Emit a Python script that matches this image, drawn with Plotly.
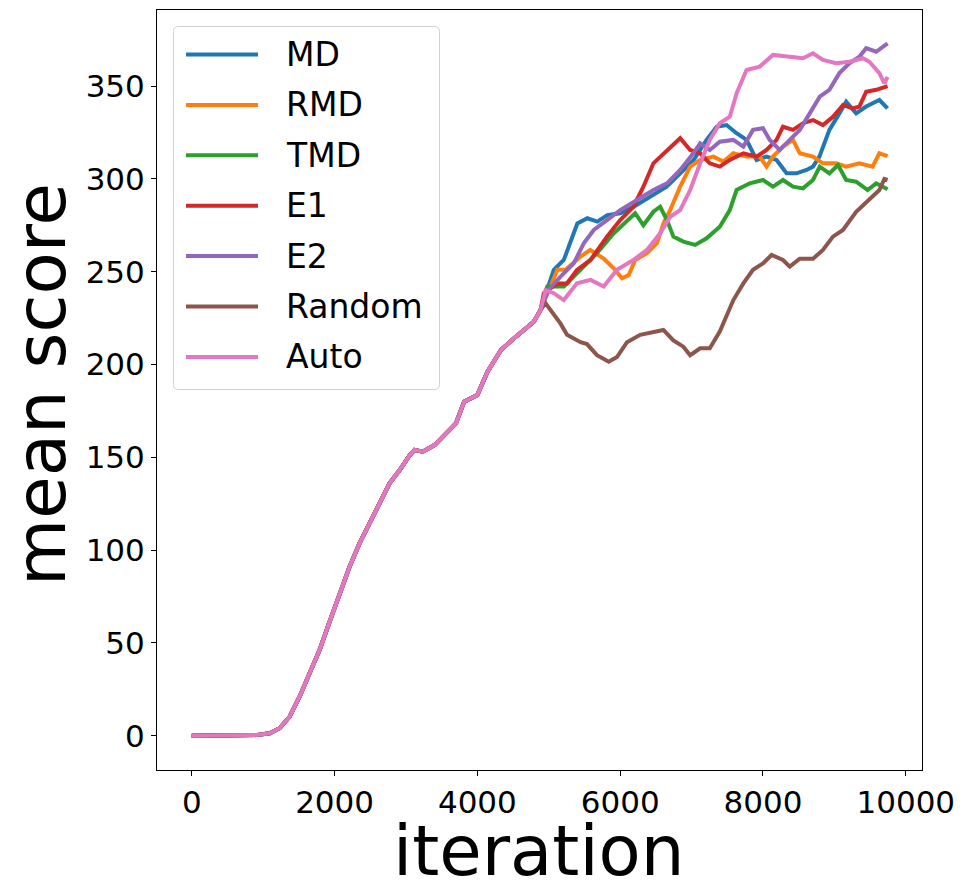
import plotly.graph_objects as go

# ---------------- data ----------------
NAMES = ["MD", "RMD", "TMD", "E1", "E2", "Random", "Auto"]
COLORS = ["#1f77b4", "#ff7f0e", "#2ca02c", "#d62728", "#9467bd", "#8c564b", "#e377c2"]

# shared warm-up part (identical for all methods)
BASE_X = [0, 500, 900, 1090, 1230, 1370, 1510, 1650, 1790, 1930, 2070, 2210, 2350, 2490,
          2630, 2770, 2910, 3050, 3120, 3235, 3400, 3580, 3700, 3815, 4000, 4140, 4330,
          4510, 4650, 4790, 4885]
BASE_Y = [0, 0, 0.3, 1.3, 4, 10.2, 21, 33.6, 46.2, 61.4, 76.7, 91, 103.7, 114.4,
          125.2, 136, 143, 151, 154, 153, 156.6, 163.8, 168.3, 180, 183.6, 196, 207.8,
          214, 218.6, 223, 229.4]

MD_X = [5070, 5210, 5300, 5400, 5540, 5680, 5820, 6000, 6190, 6420, 6650, 6840, 7030, 7210,
        7350, 7490, 7630, 7770, 7910, 8050, 8190, 8330, 8470, 8610, 8700, 8790, 8930, 9070,
        9165, 9305, 9445, 9630, 9745]
MD_Y = [251, 256.3, 265.3, 276, 278.8, 277, 280.5, 281.5, 285, 290.4, 295.8, 303, 310.2, 321,
        328.1, 329, 324.6, 321, 310.2, 312, 310.2, 303, 303, 304.8, 306.6, 312, 326.4, 335.3,
        341.6, 335.3, 339, 342.5, 338]

RMD_X = [5120, 5235, 5440, 5580, 5770, 5910, 6025, 6120, 6210, 6375, 6515, 6605, 6700, 6840,
         6980, 7120, 7305, 7445, 7585, 7770, 7955, 8050, 8140, 8280, 8420, 8515, 8700, 8840,
         9025, 9165, 9350, 9535, 9630, 9745]
RMD_Y = [251, 251, 258, 261.7, 257, 251.8, 246.4, 248.2, 256.3, 260, 265.3, 276, 283.2, 295.8,
         306.6, 310.2, 312, 309.3, 313.8, 312, 312, 306.6, 312, 317.4, 321, 313.8, 312, 308.4,
         308.4, 306.6, 308.4, 306.6, 313.8, 312.3]

TMD_X = [4980, 5210, 5440, 5675, 5910, 6095, 6210, 6325, 6465, 6560, 6655, 6745, 6885, 7050,
         7210, 7395, 7535, 7630, 7815, 8000, 8140, 8280, 8420, 8560, 8700, 8795, 8930, 9050,
         9165, 9305, 9465, 9585, 9745]
TMD_Y = [242, 242, 251, 260, 270.7, 277.8, 281.5, 275, 282.3, 285, 277.8, 268.9, 266.2, 264.4,
         268, 274.2, 283.2, 294, 297.6, 299.4, 295.8, 299.4, 295.8, 294.9, 299.4, 306.6, 303,
         307.5, 299.4, 298.5, 294, 297.6, 294.4]

E1_X = [4930, 5120, 5255, 5395, 5585, 5815, 6000, 6185, 6325, 6465, 6655, 6840, 6980, 7120,
        7255, 7395, 7535, 7725, 7910, 8050, 8190, 8280, 8420, 8560, 8700, 8840, 8980, 9120,
        9260, 9350, 9445, 9585, 9745]
E1_Y = [238.4, 243.7, 243.7, 251, 256.3, 268.9, 277.8, 285, 295.8, 308.4, 315.6, 321.9, 315.6,
        313.8, 308.4, 306.6, 310.2, 313.8, 312, 315.6, 321, 328.1, 326.4, 330, 331.7, 329, 333.5,
        339.8, 338, 339, 347, 348, 350]

E2_X = [4990, 5165, 5350, 5490, 5630, 5815, 6000, 6235, 6465, 6655, 6840, 7025, 7120, 7255,
        7395, 7585, 7725, 7860, 8000, 8095, 8235, 8375, 8515, 8655, 8795, 8930, 9070, 9210,
        9350, 9445, 9585, 9745]
E2_Y = [240, 247.3, 254.5, 265.3, 272.5, 277.8, 283.2, 288.6, 294, 297.6, 304.8, 313.8, 319.2,
        315.6, 320, 321, 317.4, 326.4, 327.3, 321, 315.6, 321, 326.4, 335.3, 344.3, 348, 357,
        362.3, 365.8, 370.4, 368.5, 373]

RANDOM_X = [4955, 5165, 5255, 5445, 5535, 5675, 5840, 5955, 6095, 6280, 6420, 6605, 6745,
            6885, 6980, 7120, 7255, 7395, 7585, 7725, 7860, 8000, 8120, 8280, 8375, 8515,
            8700, 8840, 8980, 9120, 9305, 9490, 9630, 9700, 9745]
RANDOM_Y = [233, 222, 216, 212, 211, 205, 201.5, 204, 212, 216, 217, 218.6, 213, 209.6, 205,
            208.7, 208.7, 217.7, 234.7, 243.7, 251, 254.5, 259, 256.3, 252.7, 257, 257, 261.7,
            268.9, 272.5, 282.3, 288.6, 294, 300, 299.4]

AUTO_X = [4955, 5070, 5210, 5395, 5585, 5770, 5955, 6185, 6375, 6560, 6700, 6840, 6980, 7120,
          7255, 7395, 7535, 7630, 7770, 7955, 8140, 8375, 8560, 8700, 8840, 9025, 9210, 9400,
          9490, 9630, 9700, 9745]
AUTO_Y = [240, 238.4, 234.7, 243.7, 245.6, 242, 251, 256.3, 261.7, 270.7, 279.6, 283.2, 294,
          308.4, 321, 330, 333.5, 346.1, 358.7, 360.5, 366.8, 365.8, 365, 367.7, 364.1, 362.3,
          363.1, 365, 363.1, 357, 351.5, 355]

BRANCH_X = [MD_X, RMD_X, TMD_X, E1_X, E2_X, RANDOM_X, AUTO_X]
BRANCH_Y = [MD_Y, RMD_Y, TMD_Y, E1_Y, E2_Y, RANDOM_Y, AUTO_Y]

X_TICKS = [0, 2000, 4000, 6000, 8000, 10000]
Y_TICKS = [0, 50, 100, 150, 200, 250, 300, 350]

# ---------------- figure ----------------
OFF = 8                      # page body margin in the browser
W, H = 969 - OFF, 895 - OFF
L, T = 157 - OFF, 10 - OFF
R = W - (922 - OFF)
B = H - (770 - OFF)
PW, PH = W - L - R, H - T - B
FONT = "DejaVu Sans"

fig = go.Figure()
for name, col, bx, by in zip(NAMES, COLORS, BRANCH_X, BRANCH_Y):
    fig.add_trace(go.Scatter(
        x=BASE_X + bx, y=BASE_Y + by, mode="lines", name=name,
        line=dict(color=col, width=4), showlegend=False))


def px_x(p):  # page pixel -> paper
    return (p - OFF - L) / PW


def px_y(p):
    return (H - B - (p - OFF)) / PH


# manual legend (matplotlib style)
lx0, lx1, ly0, ly1 = 173.5, 439.5, 26.5, 389.5
rr = 5
rx, ry = rr / PW, rr / PH
X0, X1, Y0, Y1 = px_x(lx0), px_x(lx1), px_y(ly1), px_y(ly0)
path = (f"M {X0+rx},{Y0} L {X1-rx},{Y0} Q {X1},{Y0} {X1},{Y0+ry} L {X1},{Y1-ry} "
        f"Q {X1},{Y1} {X1-rx},{Y1} L {X0+rx},{Y1} Q {X0},{Y1} {X0},{Y1-ry} "
        f"L {X0},{Y0+ry} Q {X0},{Y0} {X0+rx},{Y0} Z")
shapes = [dict(type="path", xref="paper", yref="paper", path=path,
               fillcolor="rgba(255,255,255,0.8)", line=dict(color="#d0d0d0", width=1),
               layer="above")]
annotations = []
for i, (name, col) in enumerate(zip(NAMES, COLORS)):
    yc = 54.5 + i * 50.4
    shapes.append(dict(type="line", xref="paper", yref="paper",
                       x0=px_x(186), x1=px_x(258), y0=px_y(yc), y1=px_y(yc),
                       line=dict(color=col, width=4), layer="above"))
    annotations.append(dict(text=name, xref="paper", yref="paper", x=px_x(284), y=px_y(yc),
                            xanchor="left", yanchor="middle", showarrow=False,
                            font=dict(family=FONT, size=33, color="black")))

annotations.append(dict(text="iteration", xref="paper", yref="paper", x=px_x(539),
                        y=px_y(851), xanchor="center", yanchor="middle", showarrow=False,
                        font=dict(family=FONT, size=69, color="black")))
annotations.append(dict(text="mean score", xref="paper", yref="paper", x=px_x(41),
                        y=px_y(385), textangle=-90, xanchor="center", yanchor="middle",
                        showarrow=False, font=dict(family=FONT, size=69, color="black")))

axis_common = dict(showgrid=False, zeroline=False, showline=True, mirror=True,
                   linecolor="black", linewidth=1, ticks="outside", ticklen=5,
                   tickcolor="black", tickwidth=1,
                   tickfont=dict(family=FONT, size=31, color="black"))

fig.update_layout(
    width=W, height=H, margin=dict(l=L, r=R, t=T, b=B, pad=0),
    paper_bgcolor="white", plot_bgcolor="white",
    xaxis=dict(range=[-487, 10227], tickvals=X_TICKS, ticktext=[str(v) for v in X_TICKS],
               **axis_common),
    yaxis=dict(range=[-18.5, 391], tickvals=Y_TICKS, ticktext=[str(v) for v in Y_TICKS],
               **axis_common),
    shapes=shapes, annotations=annotations, showlegend=False,
    font=dict(family=FONT),
)

fig.write_html("out.html")
